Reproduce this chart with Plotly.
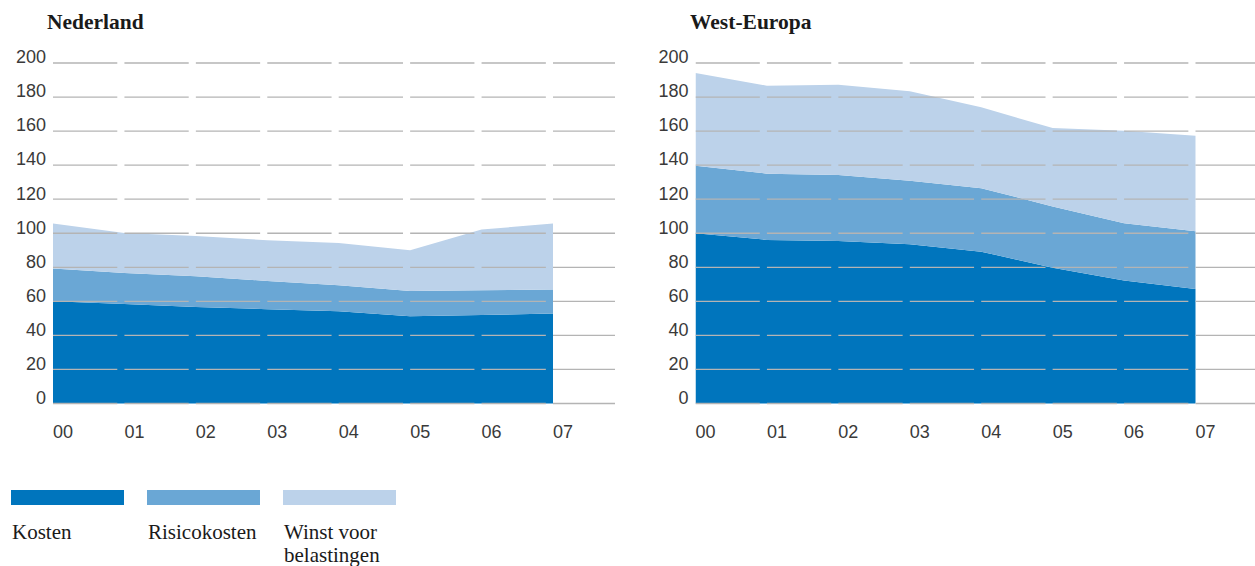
import plotly.graph_objects as go

years = ["00", "01", "02", "03", "04", "05", "06", "07"]
y_ticks = [0, 20, 40, 60, 80, 100, 120, 140, 160, 180, 200]

nl_kosten = [60.0, 58.5, 56.7, 55.4, 54.2, 51.3, 52.0, 52.8]
nl_risico = [19.3, 18.2, 18.1, 16.6, 15.3, 14.8, 14.5, 14.1]
nl_winst = [26.4, 23.5, 23.6, 23.9, 24.8, 23.9, 35.7, 38.8]

we_kosten = [100.0, 96.1, 95.5, 93.5, 89.2, 79.8, 72.2, 67.3]
we_risico = [39.6, 38.9, 38.7, 37.4, 37.3, 35.9, 33.7, 33.9]
we_winst = [54.5, 51.7, 53.1, 52.5, 47.5, 46.1, 54.3, 56.1]

series_names = ["Kosten", "Risicokosten", "Winst voor belastingen"]
legend_lines = [["Kosten"], ["Risicokosten"], ["Winst voor", "belastingen"]]
colors = ["#0075BD", "#6AA7D5", "#BCD2EA"]
panel_titles = ["Nederland", "West-Europa"]

W, H = 1255, 566
PX = lambda p: p / W
PY = lambda p: 1 - p / H

fig = go.Figure()

panels = [
    (panel_titles[0], [nl_kosten, nl_risico, nl_winst], "x", "y", 53, 615),
    (panel_titles[1], [we_kosten, we_risico, we_winst], "x2", "y2", 695.5, 1255),
]

xi = list(range(len(years)))
step = 500 / 7.0
for title, series, xa, ya, x0, x1 in panels:
    for name, vals, col in zip(series_names, series, colors):
        fig.add_trace(go.Scatter(
            x=xi, y=vals, xaxis=xa, yaxis=ya, name=name,
            stackgroup=xa, mode="none", fillcolor=col,
            hoverinfo="skip", showlegend=False,
        ))
    xmax = (x1 - x0) / step
    gx, gy = [], []
    for t in y_ticks:
        for i in xi:
            end = i + 0.9 if i < len(xi) - 1 else xmax
            gx += [i, end, None]
            gy += [t, t, None]
    fig.add_trace(go.Scatter(
        x=gx, y=gy, xaxis=xa, yaxis=ya, mode="lines",
        line=dict(color="#B4B4B4", width=1.3),
        hoverinfo="skip", showlegend=False,
    ))

y0_px, y200_px = 403.5, 63.0
upp = (y0_px - y200_px) / 200
ylo, yhi = -2, 202
ydom = [PY(y0_px - ylo * upp), PY(y0_px - yhi * upp)]

axis_font = dict(family="Liberation Sans, Arial, sans-serif", size=18, color="#3a3a3a")

for (title, series, xa, ya, x0, x1) in panels:
    xmax = (x1 - x0) / step
    xkey = "xaxis" if xa == "x" else "xaxis2"
    ykey = "yaxis" if ya == "y" else "yaxis2"
    fig.update_layout(**{
        xkey: dict(domain=[PX(x0), PX(x1)], range=[0, xmax], showgrid=False,
                   zeroline=False, showline=False, tickvals=xi, ticktext=years,
                   ticks="", tickfont=axis_font, ticklabelposition="outside right",
                   ticklabelstandoff=12, anchor=ya, fixedrange=True, automargin=False),
        ykey: dict(domain=ydom, range=[ylo, yhi], showgrid=False, zeroline=False,
                   showline=False, tickvals=y_ticks, ticks="", tickfont=axis_font,
                   ticklabelstandoff=6, ticklabelshift=-6, anchor=xa, fixedrange=True,
                   automargin=False),
    })

serif = "Liberation Serif, Times New Roman, serif"
annotations = []
title_pos = [(45, 22), (688, 22)]
for (title, *_), (tx, ty) in zip(panels, title_pos):
    annotations.append(dict(
        text="<b>" + title + "</b>", x=PX(tx), y=PY(ty), xref="paper", yref="paper",
        xanchor="left", yanchor="middle", showarrow=False,
        font=dict(family=serif, size=21.5, color="#1a1a1a"),
    ))

legend_x = [11, 147, 283]
shapes = []
for lx, lines, col in zip(legend_x, legend_lines, colors):
    shapes.append(dict(type="rect", xref="paper", yref="paper",
                       x0=PX(lx), x1=PX(lx + 113), y0=PY(505), y1=PY(490),
                       fillcolor=col, line=dict(width=0)))
    for k, line in enumerate(lines):
        annotations.append(dict(
            text=line, x=PX(lx - 1), y=PY(532 + 23 * k), xref="paper", yref="paper",
            xanchor="left", yanchor="middle", align="left", showarrow=False,
            font=dict(family=serif, size=21, color="#1a1a1a"),
        ))

fig.update_layout(
    width=W, height=H, margin=dict(l=0, r=0, t=0, b=0, pad=0),
    paper_bgcolor="white", plot_bgcolor="white",
    annotations=annotations, shapes=shapes, showlegend=False,
)

fig.write_html("out.html")
